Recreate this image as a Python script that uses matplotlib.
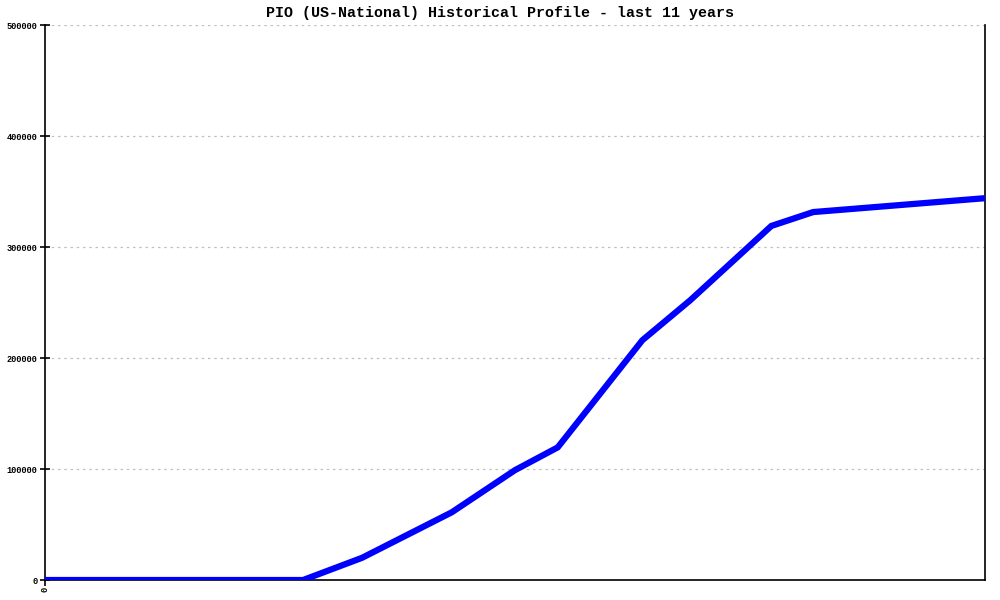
import matplotlib
matplotlib.use("Agg")
import matplotlib.pyplot as plt

# position along the 11-year span (years from start) and count
years = [0.0, 3.02, 3.71, 4.76, 5.50, 6.00, 6.99, 7.55, 8.50, 8.99, 11.0]
counts = [0, 0, 20000, 61000, 99000, 119500, 216000, 252000, 319000, 331500, 344000]

y_ticks = [0, 100000, 200000, 300000, 400000, 500000]
y_labels = ["0", "100000", "200000", "300000", "400000", "500000"]

MONO = ["Liberation Mono", "DejaVu Sans Mono"]

fig = plt.figure(figsize=(10, 6), dpi=100)
ax = fig.add_axes([0.045, 0.0333, 0.94, 0.925])

ax.plot(years, counts, color="#0000ff", linewidth=4.5, solid_capstyle="butt",
        solid_joinstyle="miter", zorder=5)

ax.set_xlim(0, 11)
ax.set_ylim(0, 500000)

ax.set_yticks(y_ticks)
ax.set_yticklabels(y_labels, fontsize=6.2, fontweight="bold", family=MONO)
ax.set_xticks([0])
ax.set_xticklabels(["0"], fontsize=6.2, fontweight="bold", family=MONO, rotation=90)
ax.tick_params(axis="y", direction="inout", length=7, width=1.2, pad=2)
ax.tick_params(axis="x", direction="out", length=4, width=1.2, pad=1)

ax.grid(axis="y", color="#c0c0c0", linestyle=(0, (2, 3)), linewidth=0.9, zorder=0)

ax.spines["top"].set_visible(False)
for s in ["left", "right", "bottom"]:
    ax.spines[s].set_color("black")
    ax.spines[s].set_linewidth(1.2)

fig.text(0.5, 0.978, "PIO (US-National) Historical Profile - last 11 years",
         ha="center", va="center", fontsize=10.8, fontweight="bold", family=MONO)

fig.savefig("out.png", dpi=100)
